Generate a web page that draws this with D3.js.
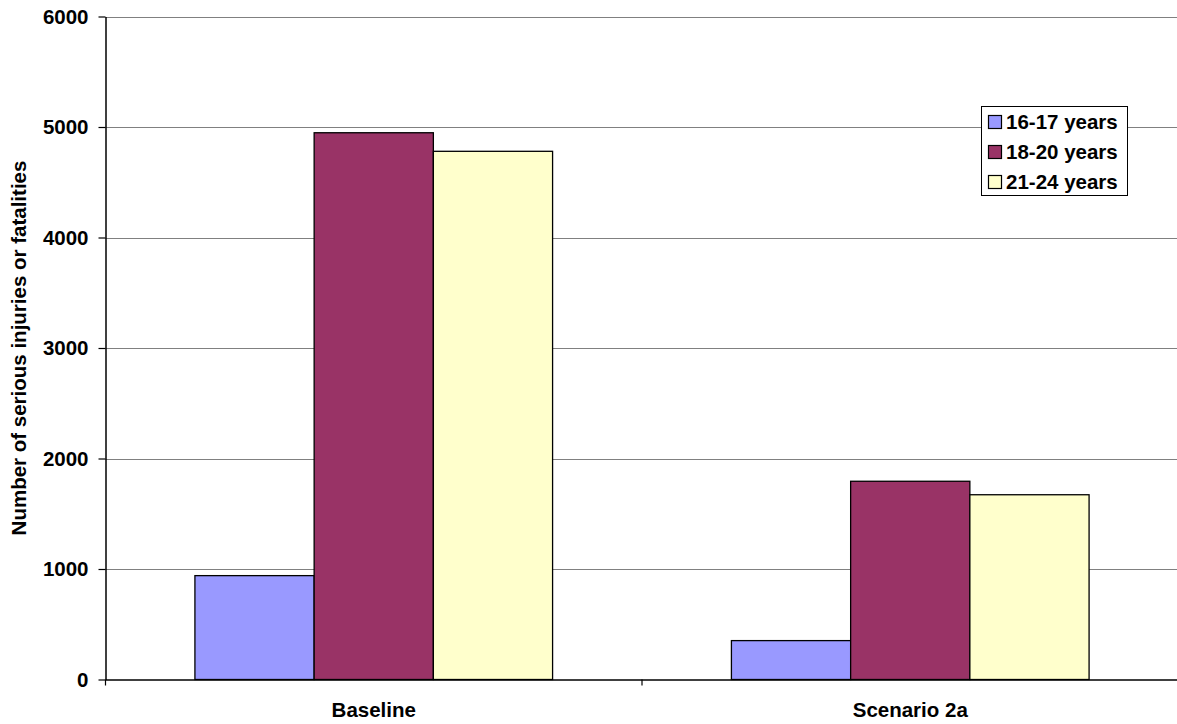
<!DOCTYPE html>
<html>
<head>
<meta charset="utf-8">
<script src="https://cdn.jsdelivr.net/npm/d3@7"></script>
<style>
  html, body { margin: 0; padding: 0; background: #fff; }
  svg { display: block; }
  text { font-family: "Liberation Sans", Arial, sans-serif; font-weight: bold; fill: #000; }
</style>
</head>
<body>
<svg id="chart" width="1177" height="724"></svg>
<script>
// Scenario categories and age groups
const categories = ["Baseline", "Scenario 2a"];
const seriesNames = ["16-17 years", "18-20 years", "21-24 years"];
const seriesColors = ["#9999FF", "#993366", "#FFFFCC"];

// Number of serious injuries or fatalities per age group, by scenario
const values16to17 = [940, 352];
const values18to20 = [4948, 1794];
const values21to24 = [4780, 1672];

const yTicks = [0, 1000, 2000, 3000, 4000, 5000, 6000];
const yTitle = "Number of serious injuries or fatalities";

const seriesValues = [values16to17, values18to20, values21to24];
const rows = categories.map((c, i) => ({
  category: c,
  bars: seriesNames.map((s, j) => ({ series: s, value: seriesValues[j][i], color: seriesColors[j] }))
}));

const svg = d3.select("#chart");
const plot = { left: 105.5, right: 1178.5, top: 16.5, bottom: 679.5 };
const fontSize = "20.5px";

const x = d3.scaleBand().domain(categories).range([plot.left, plot.right]).paddingInner(0).paddingOuter(0);
const xInner = d3.scaleBand().domain(seriesNames).range([0, x.bandwidth()]).paddingInner(0).paddingOuter(0.75);
const y = d3.scaleLinear().domain([0, 6000]).range([plot.bottom, plot.top]);

// Horizontal gridlines
svg.append("g")
  .selectAll("line")
  .data(yTicks.filter(t => t > 0))
  .join("line")
  .attr("x1", plot.left).attr("x2", plot.right)
  .attr("y1", d => Math.round(y(d)) + 0.5).attr("y2", d => Math.round(y(d)) + 0.5)
  .attr("stroke", "#808080").attr("stroke-width", 1);

// Bars
const groups = svg.append("g")
  .selectAll("g")
  .data(rows)
  .join("g")
  .attr("transform", d => `translate(${x(d.category)},0)`);

groups.selectAll("rect")
  .data(d => d.bars)
  .join("rect")
  .attr("x", d => xInner(d.series))
  .attr("width", xInner.bandwidth())
  .attr("y", d => y(d.value))
  .attr("height", d => y(0) - y(d.value))
  .attr("fill", d => d.color)
  .attr("stroke", "#000")
  .attr("stroke-width", 1.3);

// Y axis
const yAxis = svg.append("g")
  .attr("transform", `translate(${plot.left},0)`)
  .call(d3.axisLeft(y).tickValues(yTicks).tickFormat(d3.format("d")).tickSize(7).tickPadding(10).tickSizeOuter(0));
yAxis.select(".domain").attr("stroke", "#000").attr("stroke-width", 1.5);
yAxis.selectAll(".tick line").attr("stroke", "#000").attr("stroke-width", 1.2);
yAxis.selectAll("text").style("font-size", fontSize).style("font-family", "'Liberation Sans', Arial, sans-serif").style("font-weight", "bold");

// X axis: category labels centred in each band, ticks on band boundaries
const xAxis = svg.append("g")
  .attr("transform", `translate(0,${plot.bottom})`)
  .call(d3.axisBottom(x).tickSize(0).tickPadding(23).tickSizeOuter(0));
xAxis.select(".domain").attr("stroke", "#000").attr("stroke-width", 1.5);
xAxis.selectAll("text").style("font-size", fontSize).style("font-family", "'Liberation Sans', Arial, sans-serif").style("font-weight", "bold");

const boundaries = categories.map(c => x(c)).concat([x(categories[categories.length - 1]) + x.bandwidth()]);
svg.append("g")
  .selectAll("line")
  .data(boundaries)
  .join("line")
  .attr("x1", d => d).attr("x2", d => d)
  .attr("y1", plot.bottom).attr("y2", plot.bottom + 6)
  .attr("stroke", "#000").attr("stroke-width", 1.2);

// Y axis title
svg.append("text")
  .attr("transform", "translate(26,348) rotate(-90)")
  .attr("text-anchor", "middle")
  .style("font-size", fontSize)
  .text(yTitle);

// Legend
const legend = svg.append("g").attr("transform", "translate(981,106)");
legend.append("rect")
  .attr("x", 0.5).attr("y", 0.5)
  .attr("width", 146).attr("height", 89)
  .attr("fill", "#fff").attr("stroke", "#000").attr("stroke-width", 1);

const items = legend.selectAll("g.item")
  .data(seriesNames.map((s, i) => ({ name: s, color: seriesColors[i] })))
  .join("g")
  .attr("class", "item")
  .attr("transform", (d, i) => `translate(0,${16 + i * 30})`);

items.append("rect")
  .attr("x", 7.5).attr("y", -6.5)
  .attr("width", 13).attr("height", 13)
  .attr("fill", d => d.color)
  .attr("stroke", "#000").attr("stroke-width", 1.2);

items.append("text")
  .attr("x", 25).attr("y", 7)
  .style("font-size", fontSize)
  .text(d => d.name);
</script>
</body>
</html>
